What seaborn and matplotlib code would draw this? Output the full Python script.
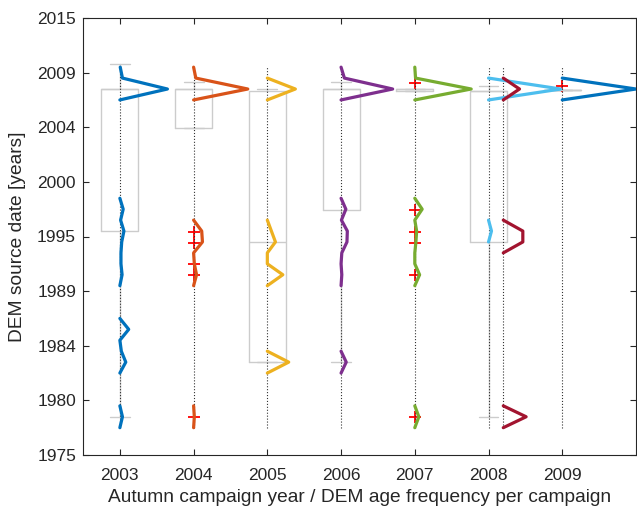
import numpy as np
import pandas as pd
import matplotlib
matplotlib.use("Agg")
import matplotlib.pyplot as plt
import seaborn as sns

# ---------------- data ----------------
campaigns = ["2003", "2004", "2005", "2006", "2007", "2008", "2008b", "2009"]
campaign_x = [2003, 2004, 2005, 2006, 2007, 2008, 2008.2, 2009]
colors = ["#0072BD", "#D95319", "#EDB120", "#7E2F8E", "#77AC30",
          "#4DBEEE", "#A2142F", "#0072BD"]

# 1-year bins of DEM source date (bin centres)
bin_centers = np.arange(1977.5, 2011.0, 1.0)

# relative frequency of DEM source dates per campaign (non-zero bins only)
freq_2003 = {1978.5: 0.035, 1983.5: 0.08, 1984.5: 0.02, 1986.5: 0.12,
             1991.5: 0.03, 1992.5: 0.015, 1993.5: 0.015, 1994.5: 0.025,
             1995.5: 0.055, 1996.5: 0.01, 1997.5: 0.045,
             2008.5: 0.645, 2009.5: 0.035, 2010.5: 0.005}
freq_2004 = {1978.5: 0.01, 1991.5: 0.04, 1992.5: 0.01, 1994.5: 0.12,
             1995.5: 0.11, 2008.5: 0.735, 2009.5: 0.03}
freq_2005 = {1983.5: 0.29, 1991.5: 0.21, 1994.5: 0.11, 1995.5: 0.055,
             2008.5: 0.38}
freq_2006 = {1983.5: 0.07, 1991.5: 0.01, 1993.5: 0.01, 1994.5: 0.08,
             1995.5: 0.085, 1996.5: 0.005, 1997.5: 0.065,
             2008.5: 0.70, 2009.5: 0.045}
freq_2007 = {1978.5: 0.055, 1991.5: 0.065, 1994.5: 0.015, 1995.5: 0.025,
             1997.5: 0.10, 2008.5: 0.765, 2009.5: 0.01}
freq_2008 = {1995.5: 0.04, 2008.5: 0.98}
freq_2008b = {1978.5: 0.31, 1994.5: 0.265, 1995.5: 0.265, 2008.5: 0.22}
freq_2009 = {2008.5: 1.0}
freqs = [freq_2003, freq_2004, freq_2005, freq_2006, freq_2007,
         freq_2008, freq_2008b, freq_2009]

# box-plot statistics of DEM source date per campaign year
box_x = [2003, 2004, 2005, 2006, 2007, 2008, 2009]
box_whislo = [1978.45, 2004.96, 1983.5, 1983.5, 2008.32, 1978.45, 2008.45]
box_q1 = [1995.5, 2004.96, 1983.5, 1997.4, 2008.32, 1994.47, 2008.45]
box_med = [2008.47, 2008.47, 1994.5, 2008.47, 2008.47, 2008.35, 2008.45]
box_q3 = [2008.47, 2008.47, 2008.32, 2008.47, 2008.47, 2008.35, 2008.45]
box_whishi = [2010.76, 2009.1, 2008.47, 2009.1, 2008.47, 2008.77, 2008.45]
box_fliers = [[],
              [1978.45, 1991.48, 1992.51, 1994.43, 1995.44],
              [],
              [],
              [1978.45, 1991.48, 1994.45, 1995.44, 1997.45, 2009.02],
              [],
              [2008.77]]

ytick_pos = [1975, 1980, 1985, 1990, 1995, 2000, 2005, 2010, 2015]
ytick_labels = ["1975", "1980", "1984", "1989", "1995", "2000", "2004", "2009", "2015"]
xtick_labels = ["2003", "2004", "2005", "2006", "2007", "2008", "2009"]

# ---------------- build polygon table ----------------
rows = []
for name, x0, fr in zip(campaigns, campaign_x, freqs):
    vals = np.array([fr.get(b, 0.0) for b in bin_centers])
    nz = vals > 0
    show = nz.copy()
    show[1:] |= nz[:-1]
    show[:-1] |= nz[1:]
    seg = 0
    prev = False
    for i, b in enumerate(bin_centers):
        if show[i]:
            if not prev:
                seg += 1
            rows.append(dict(series=name, unit=f"{name}-{seg}",
                             x=x0 + vals[i], y=b, order=i))
        prev = show[i]
df = pd.DataFrame(rows)

# ---------------- style ----------------
sns.set_theme(style="ticks")
plt.rcParams["font.family"] = ["Liberation Sans", "DejaVu Sans"]
dark = "#262626"
gray = "#cccccc"

fig = plt.figure(figsize=(6.37, 5.09), dpi=100)
ax = fig.add_axes([83 / 637, 54 / 509, 553 / 637, 437 / 509])

# box plots
stats = [dict(whislo=a, q1=b, med=c, q3=d, whishi=e, fliers=f)
         for a, b, c, d, e, f in zip(box_whislo, box_q1, box_med, box_q3,
                                     box_whishi, box_fliers)]
ax.bxp(stats, positions=box_x, widths=0.5, capwidths=0.27,
       boxprops=dict(color=gray, lw=1.0),
       whiskerprops=dict(color=gray, lw=1.0, ls="-"),
       capprops=dict(color=gray, lw=1.0),
       medianprops=dict(color=gray, lw=1.0),
       flierprops=dict(marker="+", markeredgecolor="red", markersize=9,
                       markeredgewidth=1.3, linestyle="none"),
       manage_ticks=False, zorder=1.5)

# zero-frequency baselines
ax.vlines(campaign_x, bin_centers[0], bin_centers[-1], colors="#333333",
          linestyles=":", lw=0.8, zorder=2)

# frequency polygons
sns.lineplot(data=df, x="x", y="y", hue="series", units="unit",
             estimator=None, sort=False,
             palette=dict(zip(campaigns, colors)), legend=False,
             lw=2.3, ax=ax, zorder=3)

ax.set_xlim(2002.5, 2010)
ax.set_ylim(1975, 2015)
ax.set_xticks(box_x)
ax.set_xticklabels(xtick_labels)
ax.set_yticks(ytick_pos)
ax.set_yticklabels(ytick_labels)
ax.tick_params(direction="in", top=True, right=True, length=4, width=0.8,
               colors=dark, labelsize=12.5, pad=9)
ax.tick_params(axis="y", pad=5)
for s in ax.spines.values():
    s.set_color(dark)
    s.set_linewidth(0.8)
ax.set_xlabel("Autumn campaign year / DEM age frequency per campaign",
              fontsize=13.75, color=dark, labelpad=5)
ax.set_ylabel("DEM source date [years]", fontsize=13.75, color=dark, labelpad=8)

fig.savefig("out.png", dpi=100)
